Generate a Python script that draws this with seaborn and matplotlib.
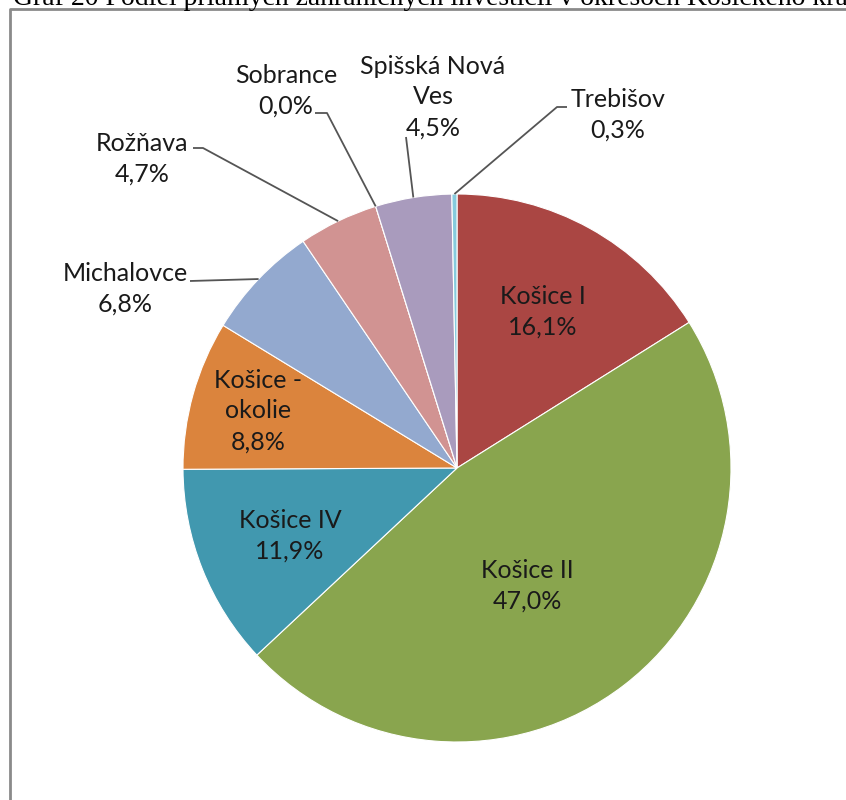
import numpy as np
import matplotlib
matplotlib.use("Agg")
import matplotlib.pyplot as plt
import seaborn as sns

sns.set_theme(style="white")
plt.rcParams['font.family'] = ['Lato', 'DejaVu Sans']

# ---- data ----
districts = ["Košice I", "Košice II", "Košice IV", "Košice -\nokolie", "Michalovce",
             "Rožňava", "Sobrance", "Spišská Nová\nVes", "Trebišov"]
shares = [16.1, 47.0, 11.9, 8.8, 6.8, 4.7, 0.0, 4.5, 0.3]
pct_labels = ["16,1%", "47,0%", "11,9%", "8,8%", "6,8%", "4,7%", "0,0%", "4,5%", "0,3%"]
colors = ["#AA4643", "#89A54E", "#4198AF", "#DB843D", "#93A9CF",
          "#D19392", "#B9CD96", "#A99BBD", "#86CBDD"]
title = "Graf 20 Podiel priamych zahraničných investícií v okresoch Košického kraja"

W, H = 846, 800
fig = plt.figure(figsize=(W / 100, H / 100), dpi=100)
ax = fig.add_axes([0, 0, 1, 1])

def py(y):  # pixel-from-top to data y
    return H - y

cx, cy, R = 457, py(468), 274
wedges, _ = ax.pie(shares, colors=colors, startangle=90, counterclock=False,
                   center=(cx, cy), radius=R,
                   wedgeprops=dict(edgecolor="white", linewidth=0.8))
ax.set_xlim(0, W)
ax.set_ylim(0, H)
ax.set_aspect("equal")
ax.axis("off")

fs = 18
ls = 1.4
txtc = "#1a1a1a"

# inside labels (layout positions, pixel coords from top)
inside = {0: (543, 312), 1: (527, 586), 2: (290, 536), 3: (258, 411)}
for i, (x, y) in inside.items():
    ax.text(x, py(y), districts[i] + "\n" + pct_labels[i], ha="center", va="center",
            fontsize=fs, color=txtc, linespacing=ls)

# outside labels with leader lines
def edge_point(i):
    w = wedges[i]
    a = np.deg2rad((w.theta1 + w.theta2) / 2)
    return cx + R * np.cos(a), cy + R * np.sin(a)

outside = {
    8: dict(text=(618, 115), path=[(567, 107), (557, 107)]),
    7: dict(text=(433, 97), path=[(406, 137)]),
    6: dict(text=(286, 91), path=[(315, 113), (327, 113)]),
    5: dict(text=(142, 159), path=[(193, 148), (203, 148)]),
    4: dict(text=(125, 289), path=[(190, 281)]),
}
for i, d in outside.items():
    x, y = d["text"]
    ax.text(x, py(y), districts[i] + "\n" + pct_labels[i], ha="center", va="center",
            fontsize=fs, color=txtc, linespacing=ls)
    ex, ey = edge_point(i)
    xs = [p[0] for p in d["path"]] + [ex]
    ys = [py(p[1]) for p in d["path"]] + [ey]
    ax.plot(xs, ys, color="#555555", lw=1.3, solid_capstyle="butt")

# frame (extends beyond the image)
ax.plot([9.5, 9.5, W + 5], [-5, py(8.5), py(8.5)], color="#8a8a8a", lw=2.0,
        clip_on=False)

# clipped title text at the very top
fig.text(13 / W, 1 - 5 / H, title, ha="left", va="baseline",
         fontsize=20, family=["Liberation Serif"], color="black")

fig.savefig("out.png", dpi=100)
